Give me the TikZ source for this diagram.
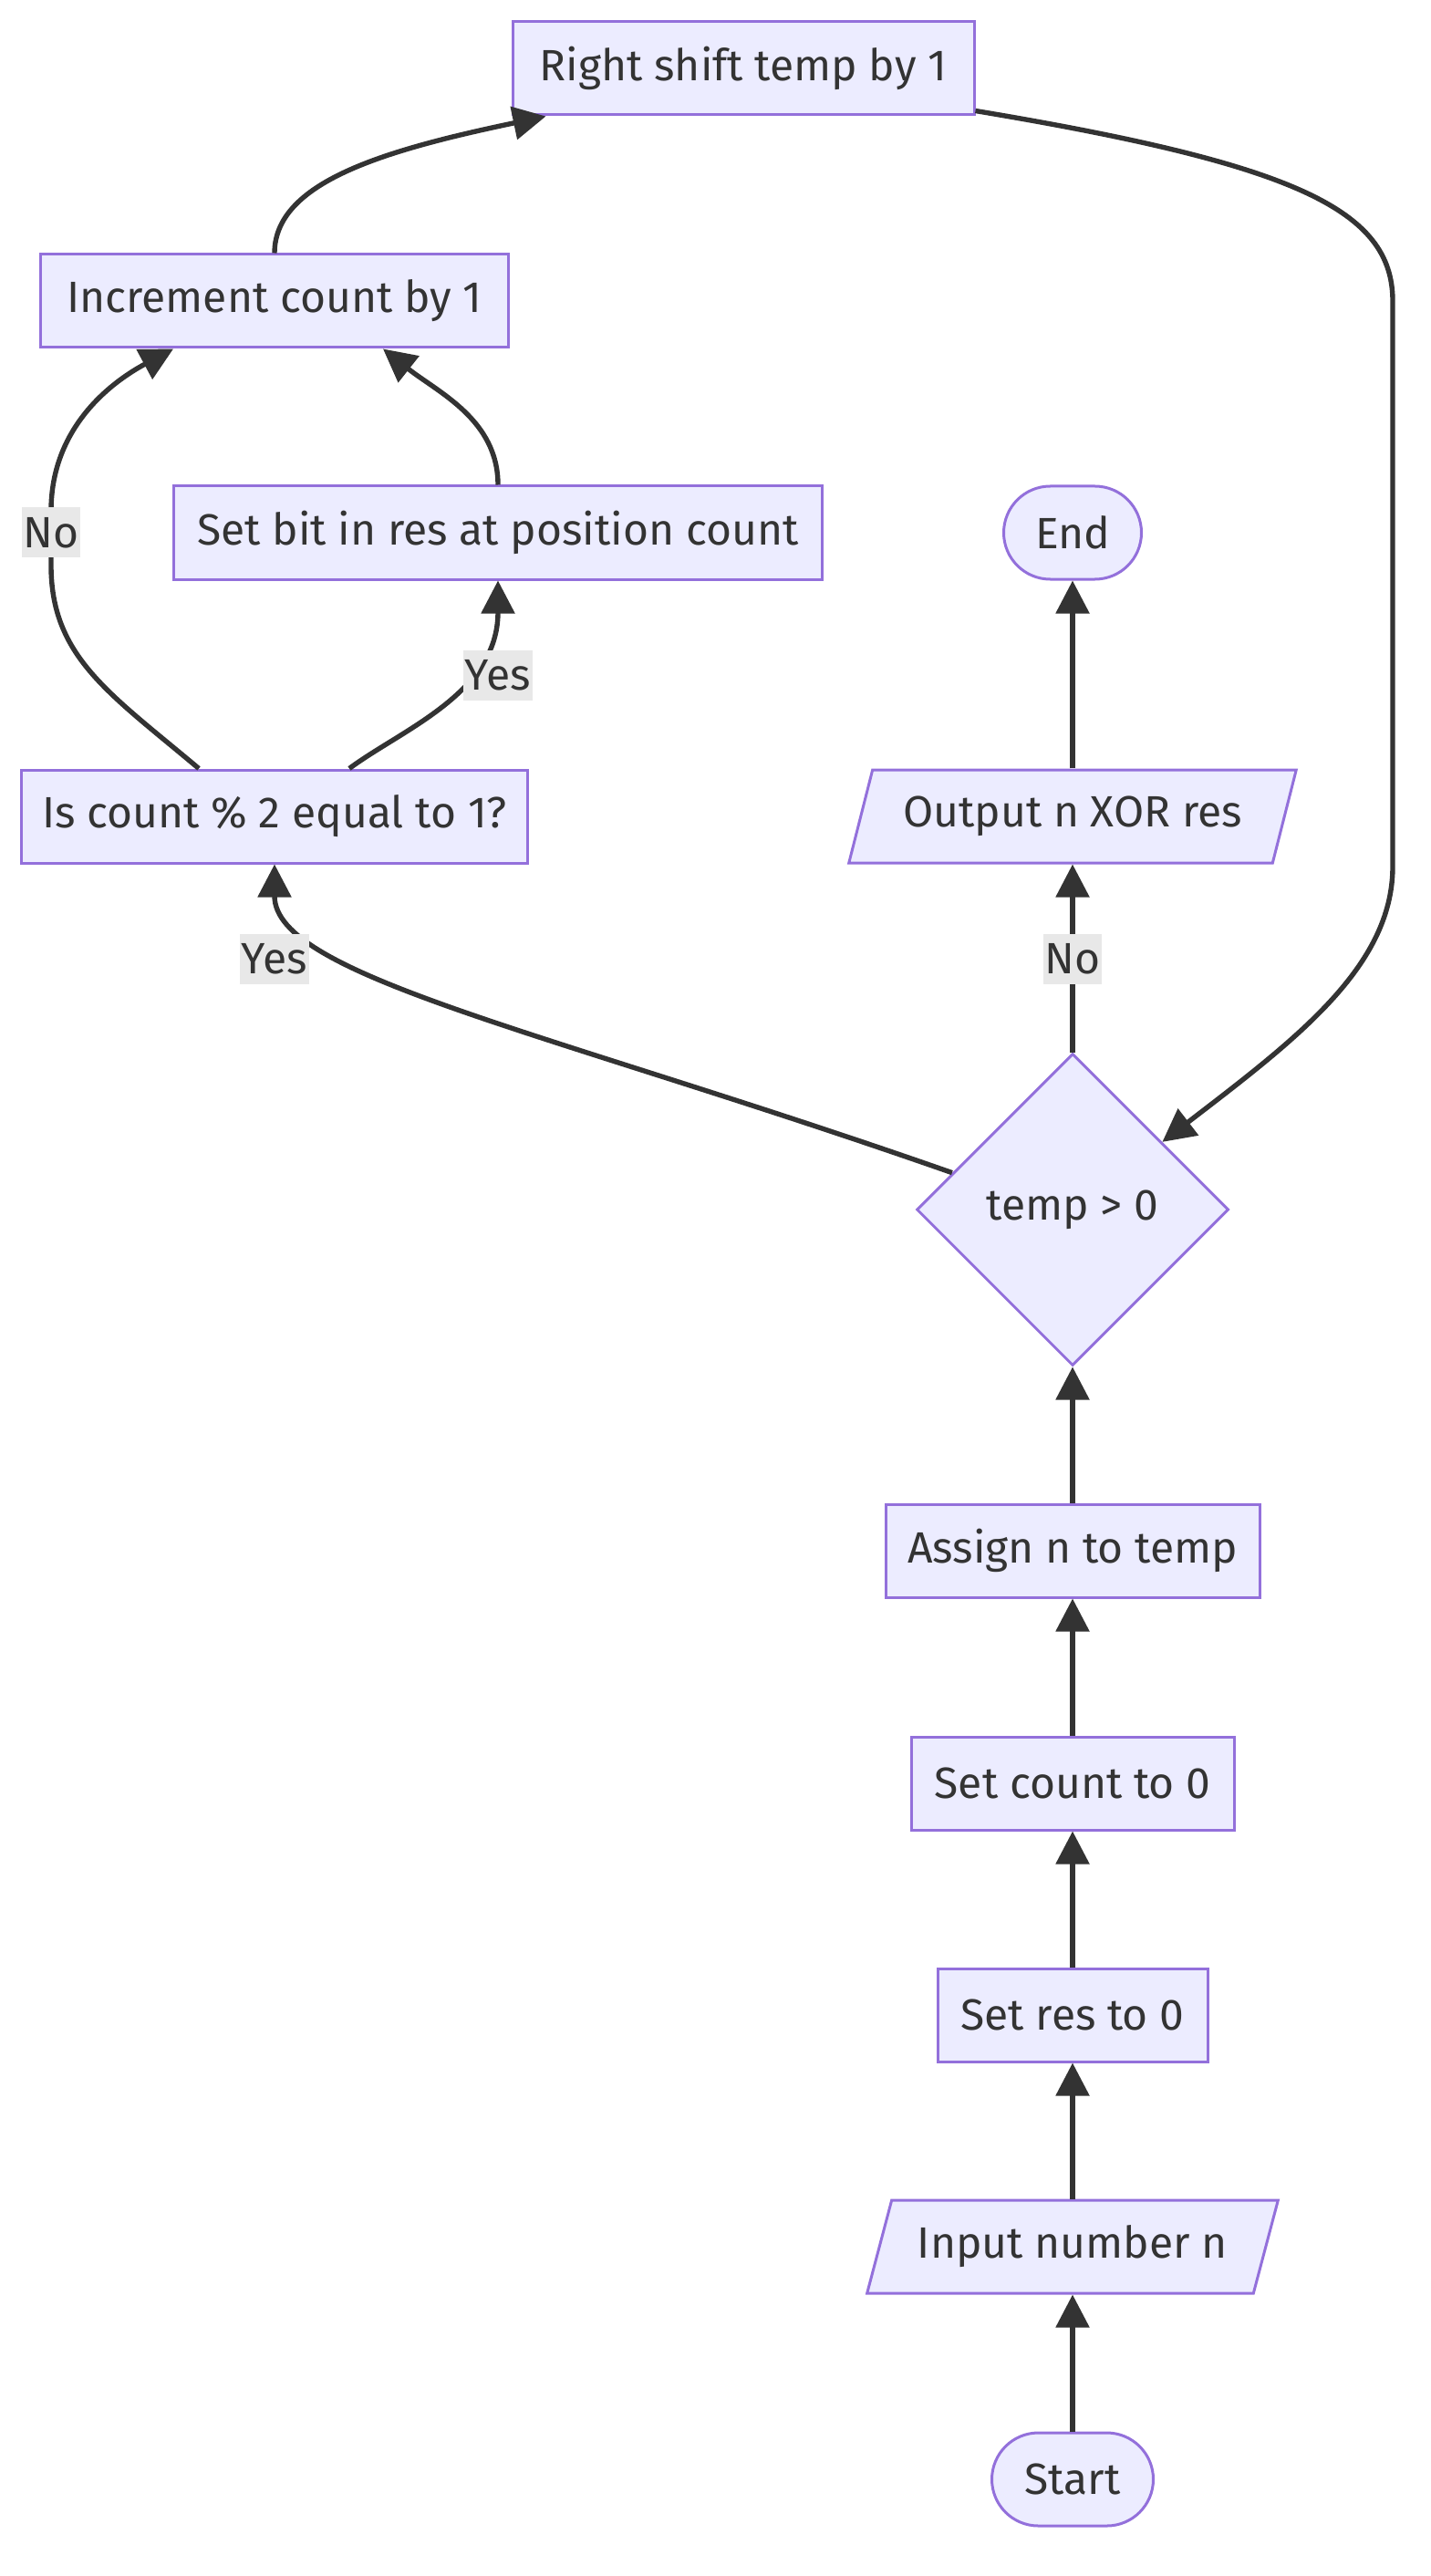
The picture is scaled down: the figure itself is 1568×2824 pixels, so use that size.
\documentclass[tikz,border=0pt]{standalone}
\usepackage{fontspec}
\setmainfont{Fira Sans}
\usetikzlibrary{shapes.geometric,arrows.meta,calc}

\definecolor{boxfill}{HTML}{ECECFF}
\definecolor{boxline}{HTML}{9370DB}
\definecolor{edgeline}{HTML}{333333}
\definecolor{labelfill}{HTML}{E8E8E8}

\begin{document}
\begin{tikzpicture}[x=0.5pt, y=-0.5pt,
    font=\fontsize{24}{29}\selectfont, text=edgeline,
    box/.style={draw=boxline, fill=boxfill, line width=1.5pt, minimum height=51pt, inner sep=0pt},
    term/.style={box, rounded corners=25.5pt},
    io/.style={box, trapezium, trapezium left angle=63.4, trapezium right angle=116.6, trapezium stretches=true},
    cond/.style={box, diamond, minimum width=171pt, minimum height=171pt},
    flow/.style={draw=edgeline, line width=2.7pt, -{Triangle[length=18pt,width=18pt]}},
    lbl/.style={fill=labelfill, inner xsep=1pt, inner ysep=0pt, minimum height=27.5pt}]

    \useasboundingbox (0,0) rectangle (1568,2824);

    % Draw the steps
    \node[box, minimum width=253pt] (shift) at (815,75) {Right shift temp by 1};
    \node[box, minimum width=256.5pt] (incr) at (301,330) {Increment count by 1};
    \node[box, minimum width=355.5pt] (setbit) at (546,584) {Set bit in res at position count};
    \node[term, minimum width=75.5pt] (endnode) at (1176,584) {End};
    \node[box, minimum width=277.5pt] (iscount) at (301,895) {Is count \% 2 equal to 1?};
    \node[io, minimum width=245.5pt] (output) at (1176,895) {Output n XOR res};
    \node[cond] (decide) at (1176,1326) {temp > 0};
    \node[box, minimum width=205pt] (assign) at (1176,1700) {Assign n to temp};
    \node[box, minimum width=177pt] (setcount) at (1176,1955) {Set count to 0};
    \node[box, minimum width=148pt] (setres) at (1176,2209) {Set res to 0};
    \node[io, minimum width=225.5pt] (input) at (1176,2463) {Input number n};
    \node[term, minimum width=88.5pt] (start) at (1176,2718) {Start};

    % Draw the straight chain
    \draw[flow] (start.north) -- (start.north |- input.south);
    \draw[flow] (setres.south |- input.north) -- (setres.south);
    \draw[flow] (setres.north) -- (setcount.south);
    \draw[flow] (setcount.north) -- (assign.south);
    \draw[flow] (assign.north) -- (decide.south);
    \draw[flow] (decide.north) -- (decide.north |- output.south);
    \draw[flow] (endnode.south |- output.north) -- (endnode.south);

    % Draw the loop back to the test
    \draw[flow] ([yshift=3pt]shift.south east) .. controls (1420,180) and (1527,230) .. (1527,330)
        -- (1527,950) .. controls (1527,1060) and (1420,1140) .. (decide.37);

    % Draw the branches
    \draw[flow] (decide.163) .. controls (600,1130) and (301,1070) .. (iscount.south);
    \draw[flow] ($(iscount.north)+(82,0)$) .. controls (440,800) and (546,760) .. (setbit.south);
    \draw[flow] ($(iscount.north)+(-83,0)$) .. controls (120,760) and (56,720) .. (56,620)
        -- (56,560) .. controls (56,470) and (120,420) .. ($(incr.south)+(-111,0)$);
    \draw[flow] (setbit.north) .. controls (546,460) and (480,430) .. ($(incr.south)+(119,0)$);
    \draw[flow] (incr.north) .. controls (301,200) and (420,165) .. ($(shift.south west)+(38,0)$);

    % Labels on the branches
    \node[lbl] (yesA) at (301,1051) {Yes};
    \node[lbl] (noA) at (1176,1051) {No};
    \node[lbl] (yesB) at (546,740) {Yes};
    \node[lbl] (noB) at (56,584) {No};

\end{tikzpicture}
\end{document}
